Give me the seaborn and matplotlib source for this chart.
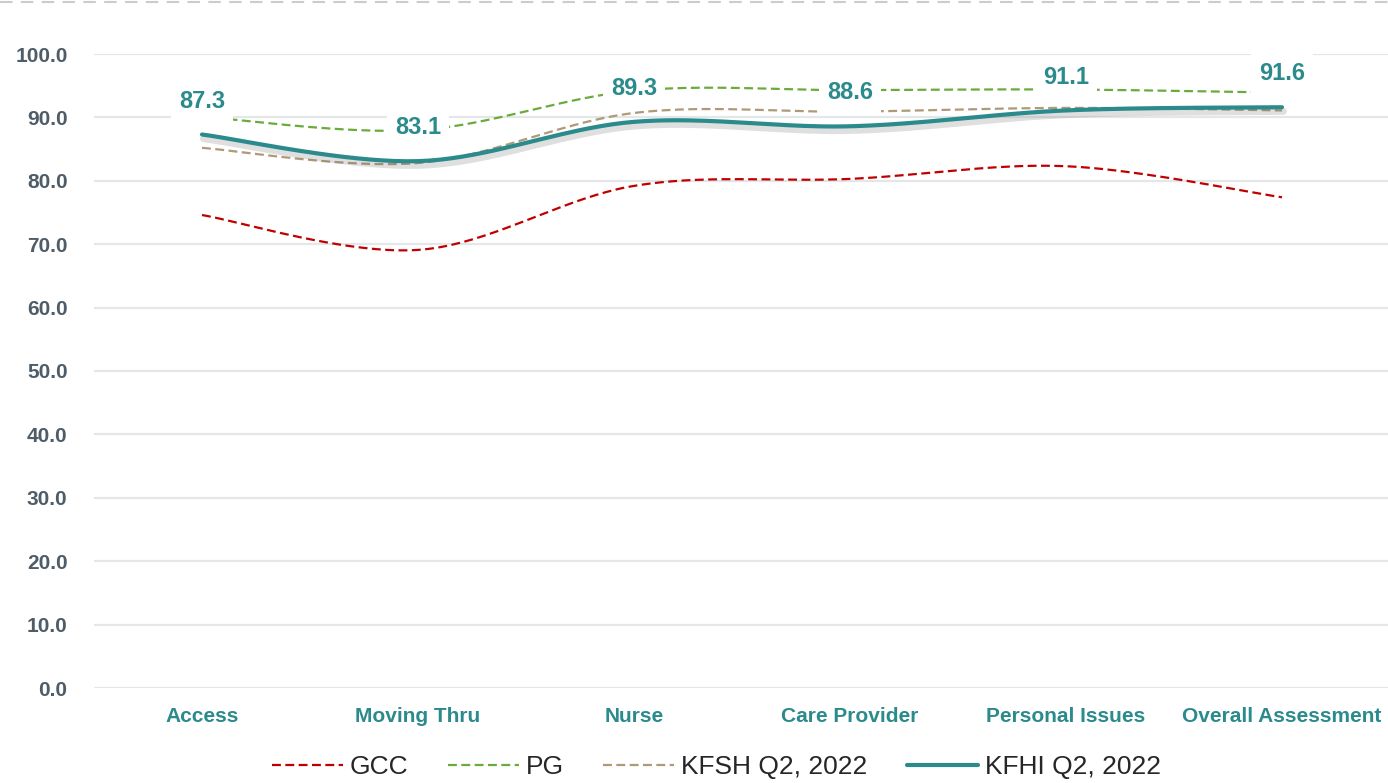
import numpy as np
import pandas as pd
import matplotlib
matplotlib.use("Agg")
import matplotlib.pyplot as plt
import matplotlib.patheffects as pe
from matplotlib.lines import Line2D
import seaborn as sns

# Survey dimension scores
categories = ["Access", "Moving Thru", "Nurse", "Care Provider",
              "Personal Issues", "Overall Assessment"]
gcc = [74.6, 69.1, 79.2, 80.3, 82.3, 77.4]
pg = [90.1, 88.0, 94.2, 94.3, 94.4, 93.9]
kfsh = [85.2, 82.8, 90.7, 90.9, 91.5, 91.1]
kfhi = [87.3, 83.1, 89.3, 88.6, 91.1, 91.6]
yticks = [0, 10, 20, 30, 40, 50, 60, 70, 80, 90, 100]

sns.set_theme(style="white")
plt.rcParams["font.family"] = ["Liberation Sans", "DejaVu Sans"]

TEAL = "#2b8a8c"
RED = "#c00000"
GREEN = "#6aab3c"
TAN = "#ae9a76"


def smooth(values, steps=40):
    """Bezier smoothing through each point (Catmull-Rom style tangents)."""
    pts = np.column_stack([np.arange(len(values), dtype=float), np.asarray(values, float)])
    ext = np.vstack([pts[0], pts, pts[-1]])
    xs, ys = [], []
    t = np.linspace(0, 1, steps)
    for i in range(len(pts) - 1):
        p0, p1, p2, p3 = ext[i], ext[i + 1], ext[i + 2], ext[i + 3]
        c1 = p1 + (p2 - p0) / 6.0
        c2 = p2 - (p3 - p1) / 6.0
        seg = ((1 - t)[:, None] ** 3 * p1 + 3 * (1 - t)[:, None] ** 2 * t[:, None] * c1
               + 3 * (1 - t)[:, None] * t[:, None] ** 2 * c2 + t[:, None] ** 3 * p2)
        if i > 0:
            seg = seg[1:]
        xs.append(seg[:, 0])
        ys.append(seg[:, 1])
    return np.concatenate(xs), np.concatenate(ys)


fig = plt.figure(figsize=(13.88, 7.83), dpi=100)
ax = fig.add_axes([94 / 1388, 95 / 783, 1296 / 1388, 634 / 783])

shadow = [pe.SimpleLineShadow(offset=(1.0, -3), shadow_color="#707070", alpha=0.22,
                              linewidth=5), pe.Normal()]

series = [
    ("GCC", gcc, RED, (0, (4, 2)), 1.6, None, 2),
    ("PG", pg, GREEN, (0, (4, 2)), 1.6, None, 2),
    ("KFSH Q2, 2022", kfsh, TAN, (0, (4, 2)), 1.6, None, 3),
    ("KFHI Q2, 2022", kfhi, TEAL, "-", 3.0, shadow, 4),
]

handles = []
for name, vals, color, ls, lw, effects, z in series:
    xs, ys = smooth(vals)
    sns.lineplot(x=xs, y=ys, ax=ax, color=color, linestyle=ls, linewidth=lw,
                 sort=False, estimator=None, zorder=z, path_effects=effects)
    handles.append(Line2D([], [], color=color, linestyle=ls, linewidth=lw, label=name))

# value labels for the KFHI series
for i, v in enumerate(kfhi):
    ax.annotate(f"{v:.1f}", (i, v), xytext=(0, 24), textcoords="offset points",
                ha="center", va="center", fontsize=17, fontweight="bold", color=TEAL,
                bbox=dict(boxstyle="square,pad=0.35", fc="white", ec="none"),
                zorder=6, annotation_clip=False)

ax.set_xlim(-0.5, len(categories) - 0.5)
ax.set_ylim(0, 100)
ax.set_xticks(range(len(categories)))
ax.set_xticklabels(categories, fontsize=15, fontweight="bold", color=TEAL)
ax.set_yticks(yticks)
ax.set_yticklabels([f"{t:.1f}" for t in yticks], fontsize=15, fontweight="bold", color="#4e5d68")
ax.tick_params(axis="both", length=0)
ax.tick_params(axis="y", pad=19)
ax.tick_params(axis="x", pad=14)
ax.grid(axis="y", color="#e4e7e9", linewidth=1.6)
ax.grid(axis="x", visible=False)
for s in ax.spines.values():
    s.set_visible(False)
ax.set_xlabel("")
ax.set_ylabel("")
if ax.get_legend() is not None:
    ax.get_legend().remove()

fig.legend(handles=handles, loc="center", bbox_to_anchor=(0.516, 0.02), ncol=4,
           frameon=False, fontsize=19, handlelength=2.7, handletextpad=0.25,
           columnspacing=1.5, borderaxespad=0)

# dashed rule along the top edge
fig.add_artist(Line2D([0, 1], [0.997, 0.997], transform=fig.transFigure,
                      color="#c9cdd1", linewidth=1.5, linestyle=(0, (6, 4))))

fig.savefig("out.png", dpi=100, facecolor="white")
